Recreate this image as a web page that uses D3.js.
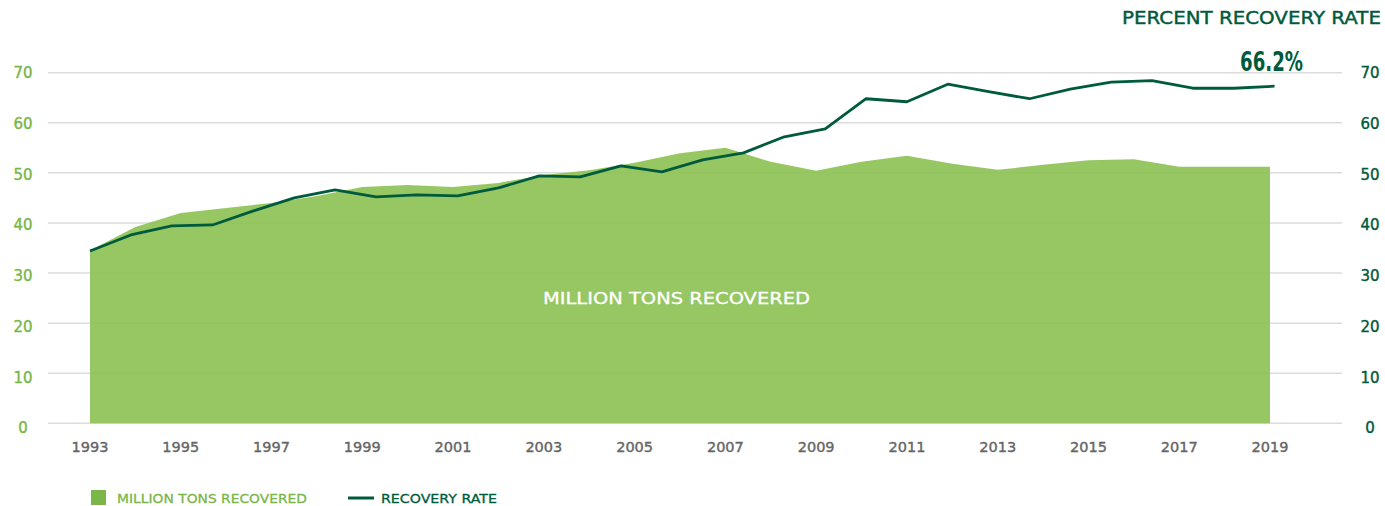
<!DOCTYPE html>
<html>
<head>
<meta charset="utf-8">
<script src="https://cdn.jsdelivr.net/npm/d3@7"></script>
<style>
  body { margin: 0; background: #fff; }
  svg text { font-family: "DejaVu Sans", "Noto Sans", sans-serif; }
</style>
</head>
<body>
<div id="chart"></div>
<script>
// Million tons recovered (area), one value per year
var years = [1993, 1994, 1995, 1996, 1997, 1998, 1999, 2000, 2001, 2002, 2003, 2004, 2005,
  2006, 2007, 2008, 2009, 2010, 2011, 2012, 2013, 2014, 2015, 2016, 2017, 2018, 2019];
var tonsRecovered = [34.5, 39.2, 42.0, 43.0, 44.0, 45.4, 47.2, 47.6, 47.2, 48.0, 49.6, 50.5, 52.0,
  53.9, 55.0, 52.2, 50.4, 52.2, 53.4, 51.8, 50.6, 51.6, 52.5, 52.7, 51.2, 51.2, 51.2];

// Recovery rate (%) line, its points sit between the year ticks
var rateYears = [1993.0, 1993.9, 1994.8, 1995.7, 1996.6, 1997.5, 1998.4, 1999.3, 2000.2, 2001.1,
  2002.0, 2002.9, 2003.8, 2004.7, 2005.6, 2006.5, 2007.4, 2008.3, 2009.2, 2010.1,
  2011.0, 2011.9, 2012.8, 2013.7, 2014.6, 2015.5, 2016.4, 2017.3, 2018.2, 2019.1];
var recoveryRate = [34.4, 37.6, 39.4, 39.6, 42.4, 45.0, 46.6, 45.2, 45.6, 45.4,
  47.0, 49.4, 49.2, 51.4, 50.2, 52.6, 54.0, 57.2, 58.8, 64.8,
  64.2, 67.7, 66.2, 64.8, 66.7, 68.1, 68.4, 66.9, 66.9, 67.3];

var xTicks = [1993, 1995, 1997, 1999, 2001, 2003, 2005, 2007, 2009, 2011, 2013, 2015, 2017, 2019];
var yTicks = [0, 10, 20, 30, 40, 50, 60, 70];

var svgWidth = 1385;
var svgHeight = 506;

var lightGreen = "#7ab648";
var darkGreen = "#005a3c";

var svg = d3.select("#chart").append("svg")
    .attr("width", svgWidth)
    .attr("height", svgHeight);

var xScale = d3.scaleLinear().domain([1993, 2019]).range([90, 1270]);
var yScale = d3.scaleLinear().domain([0, 70]).range([423.3, 72.7]);

// gridlines
svg.append("g")
  .selectAll("line")
  .data(yTicks)
  .enter()
  .append("line")
    .attr("x1", 48)
    .attr("x2", 1342)
    .attr("y1", d => yScale(d))
    .attr("y2", d => yScale(d))
    .attr("stroke", "#dcdcdc")
    .attr("stroke-width", 1.5);

// area
var areaData = years.map((y, i) => ({ year: y, value: tonsRecovered[i] }));
var area = d3.area()
    .x(d => xScale(d.year))
    .y0(yScale(0))
    .y1(d => yScale(d.value));

svg.append("path")
    .datum(areaData)
    .attr("d", area)
    .attr("fill", "#8bc152")
    .attr("opacity", 0.9);

svg.append("text")
    .attr("x", 543)
    .attr("y", 304)
    .attr("fill", "#fff")
    .attr("stroke", "#fff")
    .attr("stroke-width", 0.3)
    .attr("textLength", 267)
    .attr("lengthAdjust", "spacingAndGlyphs")
    .style("font-size", "16.5px")
    .text("MILLION TONS RECOVERED");

// line
var lineData = rateYears.map((y, i) => ({ year: y, value: recoveryRate[i] }));
var line = d3.line()
    .x(d => xScale(d.year))
    .y(d => yScale(d.value));

svg.append("path")
    .datum(lineData)
    .attr("d", line)
    .attr("fill", "none")
    .attr("stroke", darkGreen)
    .attr("stroke-width", 2.8)
    .attr("stroke-linejoin", "round");

// left axis labels
svg.append("g")
  .selectAll("text")
  .data(yTicks)
  .enter()
  .append("text")
    .attr("x", 23)
    .attr("y", d => yScale(d) + 5.5 + (70 - d) * 0.065)
    .attr("text-anchor", "middle")
    .attr("fill", lightGreen)
    .attr("stroke", lightGreen)
    .attr("stroke-width", 0.4)
    .style("font-size", "15px")
    .text(d => d);

// right axis labels
svg.append("g")
  .selectAll("text")
  .data(yTicks)
  .enter()
  .append("text")
    .attr("x", 1370)
    .attr("y", d => yScale(d) + 5.5 + (70 - d) * 0.065)
    .attr("text-anchor", "middle")
    .attr("fill", darkGreen)
    .attr("stroke", darkGreen)
    .attr("stroke-width", 0.4)
    .style("font-size", "15px")
    .text(d => d);

// x axis labels
svg.append("g")
  .selectAll("text")
  .data(xTicks)
  .enter()
  .append("text")
    .attr("x", d => xScale(d))
    .attr("y", 452)
    .attr("text-anchor", "middle")
    .attr("fill", "#666")
    .attr("stroke", "#666")
    .attr("stroke-width", 0.4)
    .style("font-size", "14.5px")
    .text(d => d);

// right axis title
svg.append("text")
    .attr("x", 1122)
    .attr("y", 24)
    .attr("fill", darkGreen)
    .attr("stroke", darkGreen)
    .attr("stroke-width", 0.4)
    .attr("textLength", 259)
    .attr("lengthAdjust", "spacingAndGlyphs")
    .style("font-size", "17px")
    .text("PERCENT RECOVERY RATE");

// callout
svg.append("text")
    .attr("x", 1240)
    .attr("y", 71)
    .attr("fill", darkGreen)
    .attr("textLength", 63)
    .attr("lengthAdjust", "spacingAndGlyphs")
    .style("font-family", "'DejaVu Sans Condensed', 'DejaVu Sans', sans-serif")
    .style("font-weight", "bold")
    .style("font-size", "27px")
    .text("66.2%");

// legend
svg.append("rect")
    .attr("x", 91)
    .attr("y", 490)
    .attr("width", 15)
    .attr("height", 15)
    .attr("fill", lightGreen);

svg.append("text")
    .attr("x", 117)
    .attr("y", 503)
    .attr("fill", lightGreen)
    .attr("stroke", lightGreen)
    .attr("stroke-width", 0.3)
    .attr("textLength", 190)
    .attr("lengthAdjust", "spacingAndGlyphs")
    .style("font-size", "13px")
    .text("MILLION TONS RECOVERED");

svg.append("line")
    .attr("x1", 348)
    .attr("x2", 374)
    .attr("y1", 498)
    .attr("y2", 498)
    .attr("stroke", darkGreen)
    .attr("stroke-width", 3);

svg.append("text")
    .attr("x", 381)
    .attr("y", 503)
    .attr("fill", darkGreen)
    .attr("stroke", darkGreen)
    .attr("stroke-width", 0.3)
    .attr("textLength", 116)
    .attr("lengthAdjust", "spacingAndGlyphs")
    .style("font-size", "13px")
    .text("RECOVERY RATE");
</script>
</body>
</html>
